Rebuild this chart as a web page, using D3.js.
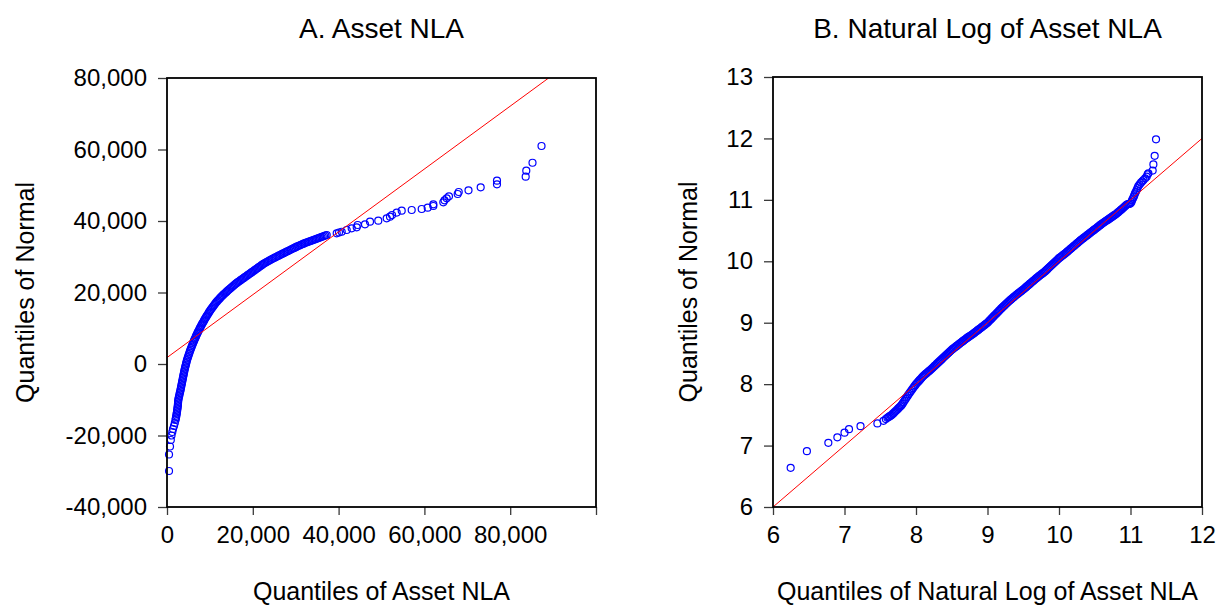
<!DOCTYPE html>
<html>
<head>
<meta charset="utf-8">
<script src="https://cdn.jsdelivr.net/npm/d3@7"></script>
<style>
  html, body { margin: 0; padding: 0; background: #fff; }
  svg { display: block; }
</style>
</head>
<body>
<svg id="chart" width="1217" height="606"></svg>
<script>
// ---------------------------------------------------------------
// Panel A: sorted Asset NLA values vs. quantiles of the fitted normal
// ---------------------------------------------------------------
const assetNlaPoints = [
  [470,-29930],[470,-25310],[700,-23080],[890,-21260],[1050,-20000],[1240,-19020],[1400,-18180],[1630,-17340],[1820,-16500],
  [1980,-15660],[2050,-15240],[2120,-14820],[2190,-14410],[2240,-13990],[2300,-13570],[2350,-13150],[2400,-12730],[2450,-12310],[2490,-11890],
  [2540,-11470],[2560,-11050],[2590,-10630],[2620,-10210],[2680,-9790],[2750,-9370],[2840,-8950],[2910,-8530],[2980,-8110],[3080,-7690],
  [3150,-7270],[3220,-6850],[3290,-6430],[3360,-6010],[3430,-5590],[3500,-5170],[3570,-4760],[3640,-4340],[3710,-3920],[3780,-3500],
  [3850,-3080],[3920,-2660],[3990,-2240],[4060,-1820],[4140,-1400],[4220,-980],[4310,-560],[4410,-140],[4490,280],[4570,700],
  [4660,1120],[4780,1540],[4900,1960],[5010,2380],[5130,2800],[5250,3220],[5360,3640],[5500,4060],[5640,4480],[5760,4900],
  [5900,5310],[6040,5730],[6180,6150],
  [6310,6530],[6450,6900],[6590,7270],[6720,7640],[6860,8020],[6990,8390],
  [7150,8760],[7300,9140],[7460,9510],[7620,9880],[7770,10260],[7930,10630],
  [8100,11000],[8280,11380],[8450,11750],[8630,12120],[8800,12490],[8970,12870],
  [9170,13240],[9360,13610],[9560,13990],[9750,14360],[9950,14730],[10140,15100],
  [10350,15450],[10570,15800],[10780,16150],[11000,16500],[11210,16850],[11420,17200],
  [11660,17500],[11890,17810],[12120,18110],[12350,18410],[12590,18720],[12820,19020],
  [13090,19320],[13360,19630],[13640,19930],[13910,20230],[14180,20540],[14450,20840],
  [14730,21120],[15000,21400],[15270,21680],[15540,21960],[15810,22240],[16080,22520],
  [16360,22750],[16630,22980],[16900,23220],[17170,23450],[17440,23680],[17720,23910],
  [17990,24150],[18260,24380],[18530,24610],[18800,24850],[19080,25080],[19350,25310],
  [19620,25550],[19890,25780],[20160,26010],[20440,26240],[20710,26480],[20980,26710],
  [21250,26940],[21520,27180],[21800,27410],[22070,27640],[22340,27880],[22610,28110],
  [22920,28320],[23230,28530],[23540,28740],[23850,28950],[24170,29160],[24480,29370],
  [24790,29560],[25100,29740],[25410,29930],[25720,30120],[26030,30300],[26340,30490],
  [26650,30670],[26960,30860],[27270,31050],[27580,31230],[27900,31420],[28210,31610],
  [28540,31810],[28880,32010],[29220,32210],[29560,32410],[29900,32610],[30230,32810],
  [30560,32980],[30880,33150],[31200,33330],[31520,33500],[31850,33670],[32170,33840],
  [32490,33980],[32810,34120],[33140,34260],[33460,34400],[33780,34540],[34100,34680],
  [34420,34820],[34730,34960],[35040,35100],[35350,35240],[35660,35380],
  [35980,35520],[36290,35660],[36600,35800],[36910,35940],[37230,36080],
  [39560,36560],[40090,36780],[40720,37000],[41890,37480],[43050,37960],[44220,38240],[44450,38880],
  [46150,39070],[47320,39800],[49250,40080],[51210,40750],[51980,41200],[52450,41680],[53540,42370],
  [54710,42880],[57040,43070],[59370,43350],[60770,43720],[62080,44190],[62080,44670],[64410,45230],
  [64690,45790],[65200,46350],[65730,46910],[67760,47550],[68000,48110],[70280,48580],[73120,49420],
  [76920,50260],[76920,51270],[83610,52390],[83750,54070],[85200,56300],[87300,60980]
];
// reference line of the fitted normal (end points)
const assetNlaLine = [[0, 1800], [88960, 80000]];
const assetXTicks = [0, 20000, 40000, 60000, 80000, 100000];
const assetXLabelled = [0, 20000, 40000, 60000, 80000];
const assetYTicks = [-40000, -20000, 0, 20000, 40000, 60000, 80000];

// ---------------------------------------------------------------
// Panel B: sorted log Asset NLA vs. quantiles of the fitted normal
// ---------------------------------------------------------------
const logAssetNlaPoints = [
  [6.247,6.638],[6.474,6.909],[6.774,7.045],[6.900,7.134],[7.000,7.210],[7.063,7.267],[7.224,7.316],
  [7.460,7.360],[7.545,7.403],[7.578,7.432],
  [7.600,7.452],[7.615,7.464],[7.630,7.475],[7.645,7.487],[7.660,7.498],[7.675,7.515],[7.690,7.532],
  [7.705,7.549],[7.720,7.566],[7.735,7.583],[7.750,7.600],[7.765,7.618],[7.780,7.636],[7.795,7.654],
  [7.810,7.678],[7.825,7.705],[7.840,7.732],[7.855,7.759],[7.870,7.785],[7.885,7.812],[7.900,7.838],
  [7.915,7.863],[7.930,7.887],[7.945,7.912],[7.960,7.936],[7.975,7.960],[7.990,7.984],[8.005,8.006],
  [8.020,8.026],[8.035,8.045],[8.050,8.065],[8.065,8.084],[8.080,8.104],[8.095,8.124],[8.110,8.140],
  [8.125,8.155],[8.140,8.170],[8.155,8.185],[8.170,8.200],[8.185,8.215],[8.200,8.230],[8.215,8.246],
  [8.230,8.263],[8.245,8.279],[8.260,8.296],[8.275,8.312],[8.290,8.329],[8.305,8.345],[8.320,8.362],
  [8.335,8.378],[8.350,8.395],[8.365,8.411],[8.380,8.428],[8.395,8.444],[8.410,8.461],[8.425,8.477],
  [8.440,8.494],[8.455,8.510],[8.470,8.527],[8.485,8.543],[8.500,8.560],[8.515,8.573],[8.530,8.587],
  [8.545,8.600],[8.560,8.614],[8.575,8.627],[8.590,8.641],[8.605,8.654],[8.620,8.668],[8.635,8.681],
  [8.650,8.695],[8.665,8.708],[8.680,8.722],[8.695,8.735],[8.710,8.748],[8.725,8.760],[8.740,8.772],
  [8.755,8.784],[8.770,8.796],[8.785,8.808],[8.800,8.820],[8.815,8.833],[8.830,8.847],[8.845,8.860],
  [8.860,8.874],[8.875,8.887],[8.890,8.901],[8.905,8.914],[8.920,8.928],[8.935,8.941],[8.950,8.955],
  [8.965,8.968],[8.980,8.982],[8.995,8.995],[9.010,9.012],[9.025,9.030],[9.040,9.048],[9.055,9.066],
  [9.070,9.084],[9.085,9.102],[9.100,9.120],[9.115,9.138],[9.130,9.156],[9.145,9.174],[9.160,9.192],
  [9.175,9.210],[9.190,9.228],[9.205,9.245],[9.220,9.262],[9.235,9.278],[9.250,9.295],[9.265,9.311],
  [9.280,9.328],[9.295,9.344],[9.310,9.360],[9.325,9.375],[9.340,9.390],[9.355,9.405],[9.370,9.420],
  [9.385,9.435],[9.400,9.450],[9.415,9.463],[9.430,9.477],[9.445,9.490],[9.460,9.504],[9.475,9.517],
  [9.490,9.531],[9.505,9.545],[9.520,9.560],[9.535,9.575],[9.550,9.590],[9.565,9.605],[9.580,9.620],
  [9.595,9.635],[9.610,9.650],[9.625,9.665],[9.640,9.680],[9.655,9.695],[9.670,9.710],[9.685,9.725],
  [9.700,9.740],[9.715,9.753],[9.730,9.767],[9.745,9.780],[9.760,9.794],[9.775,9.807],[9.790,9.821],
  [9.805,9.835],[9.820,9.852],[9.835,9.868],[9.850,9.885],[9.865,9.901],[9.880,9.918],[9.895,9.934],
  [9.910,9.951],[9.925,9.967],[9.940,9.984],[9.955,10.000],[9.970,10.017],[9.985,10.033],[10.000,10.050],
  [10.015,10.063],[10.030,10.077],[10.045,10.090],[10.060,10.104],[10.075,10.117],[10.090,10.131],
  [10.105,10.145],[10.120,10.160],[10.135,10.175],[10.150,10.190],[10.165,10.205],[10.180,10.220],
  [10.195,10.235],[10.210,10.250],[10.225,10.265],[10.240,10.280],[10.255,10.295],[10.270,10.310],
  [10.285,10.325],[10.300,10.340],[10.315,10.353],[10.330,10.367],[10.345,10.380],[10.360,10.394],
  [10.375,10.407],[10.390,10.421],[10.405,10.434],[10.420,10.448],[10.435,10.461],[10.450,10.475],
  [10.465,10.488],[10.480,10.502],[10.495,10.515],[10.510,10.529],[10.525,10.542],[10.540,10.556],
  [10.555,10.569],[10.570,10.583],[10.585,10.596],[10.600,10.610],[10.615,10.622],[10.630,10.634],
  [10.645,10.646],[10.660,10.658],[10.675,10.670],[10.690,10.682],[10.705,10.694],[10.720,10.706],
  [10.735,10.718],[10.750,10.730],[10.765,10.742],[10.780,10.754],[10.795,10.766],[10.810,10.780],
  [10.825,10.795],[10.840,10.810],[10.855,10.825],[10.870,10.840],[10.885,10.855],[10.900,10.870],
  [10.915,10.886],[10.930,10.903],[10.945,10.919],
  [10.962,10.930],[10.980,10.934],[10.998,10.940],[11.012,10.962],[11.022,10.992],[11.032,11.018],
  [11.044,11.046],[11.052,11.072],[11.063,11.105],[11.075,11.132],[11.087,11.160],[11.098,11.192],
  [11.110,11.224],[11.128,11.252],[11.147,11.279],[11.165,11.302],[11.182,11.323],[11.205,11.350],
  [11.226,11.377],[11.240,11.415],[11.250,11.432],[11.310,11.476],[11.320,11.576],[11.338,11.716],
  [11.357,11.985]
];
const logAssetNlaLine = [[6, 6], [12, 12]];
const logXTicks = [6, 7, 8, 9, 10, 11, 12];
const logYTicks = [6, 7, 8, 9, 10, 11, 12, 13];

// ---------------------------------------------------------------
const FONT = '"Liberation Sans", Arial, Helvetica, sans-serif';
const svg = d3.select("#chart");
const commaFmt = d3.format(",");
const plainNumber = d => commaFmt(d).replace("\u2212", "-");

function drawPanel(cfg) {
  const g = svg.append("g").attr("transform", `translate(${cfg.left},${cfg.top})`);
  const x = d3.scaleLinear().domain(cfg.xDomain).range([0, cfg.width]);
  const y = d3.scaleLinear().domain(cfg.yDomain).range([cfg.height, 0]);

  g.append("clipPath").attr("id", cfg.id + "-clip")
    .append("rect").attr("width", cfg.width).attr("height", cfg.height);

  const xAxis = d3.axisBottom(x)
    .tickValues(cfg.xTicks).tickSize(8).tickPadding(11)
    .tickFormat(d => cfg.xLabelled.includes(d) ? plainNumber(d) : "");
  const yAxis = d3.axisLeft(y)
    .tickValues(cfg.yTicks).tickSize(9).tickPadding(11)
    .tickFormat(plainNumber);

  const gx = g.append("g").attr("transform", `translate(0,${cfg.height})`).call(xAxis);
  const gy = g.append("g").call(yAxis);
  [gx, gy].forEach(a => {
    a.attr("font-size", 24).attr("font-family", FONT);
    a.select(".domain").remove();
    a.selectAll(".tick line").attr("stroke", "#3a3a3a").attr("stroke-width", 1.3);
    a.selectAll(".tick text").attr("fill", "#000");
  });

  // sample points
  g.append("g").selectAll("circle")
    .data(cfg.points)
    .join("circle")
    .attr("cx", d => x(d[0]))
    .attr("cy", d => y(d[1]))
    .attr("r", 3.5)
    .attr("fill", "none")
    .attr("stroke", "#0000ff")
    .attr("stroke-width", 1.2);

  // fitted reference line
  g.append("path")
    .datum(cfg.line)
    .attr("clip-path", `url(#${cfg.id}-clip)`)
    .attr("d", d3.line().x(d => x(d[0])).y(d => y(d[1])))
    .attr("fill", "none")
    .attr("stroke", "#ff0000")
    .attr("stroke-width", 1);

  // frame
  g.append("rect")
    .attr("width", cfg.width).attr("height", cfg.height)
    .attr("fill", "none").attr("stroke", "#000").attr("stroke-width", 1.8);

  // titles
  svg.append("text")
    .attr("x", cfg.left + cfg.width / 2).attr("y", 38)
    .attr("text-anchor", "middle").attr("font-family", FONT).attr("font-size", 28)
    .text(cfg.title);
  svg.append("text")
    .attr("x", cfg.left + cfg.width / 2).attr("y", 600)
    .attr("text-anchor", "middle").attr("font-family", FONT).attr("font-size", 25)
    .text(cfg.xTitle);
  svg.append("text")
    .attr("transform", `translate(${cfg.yTitleX},${cfg.top + cfg.height / 2}) rotate(-90)`)
    .attr("text-anchor", "middle").attr("font-family", FONT).attr("font-size", 25)
    .text(cfg.yTitle);
}

drawPanel({
  id: "panelA", left: 167, top: 78, width: 429, height: 429,
  xDomain: [0, 100000], yDomain: [-40000, 80000],
  xTicks: assetXTicks, xLabelled: assetXLabelled, yTicks: assetYTicks,
  points: assetNlaPoints, line: assetNlaLine,
  title: "A. Asset NLA", xTitle: "Quantiles of Asset NLA",
  yTitle: "Quantiles of Normal", yTitleX: 34
});

drawPanel({
  id: "panelB", left: 773, top: 77, width: 429, height: 430,
  xDomain: [6, 12], yDomain: [6, 13],
  xTicks: logXTicks, xLabelled: logXTicks, yTicks: logYTicks,
  points: logAssetNlaPoints, line: logAssetNlaLine,
  title: "B. Natural Log of Asset NLA", xTitle: "Quantiles of Natural Log of Asset NLA",
  yTitle: "Quantiles of Normal", yTitleX: 697
});
</script>
</body>
</html>
